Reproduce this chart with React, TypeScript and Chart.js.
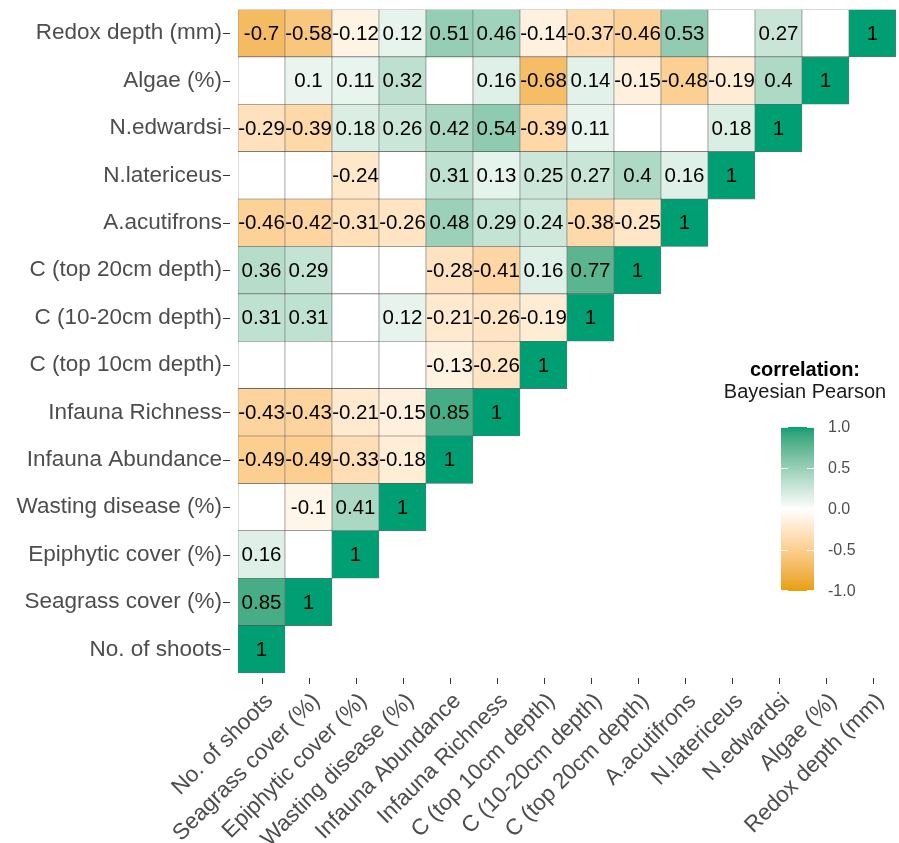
import React, { useEffect, useRef } from "react";
import { Chart, registerables } from "chart.js";

Chart.register(...registerables);

// Variables, in axis order (x: left to right, y: bottom to top)
const variables = [
  "No. of shoots",
  "Seagrass cover (%)",
  "Epiphytic cover (%)",
  "Wasting disease (%)",
  "Infauna Abundance",
  "Infauna Richness",
  "C (top 10cm depth)",
  "C (10-20cm depth)",
  "C (top 20cm depth)",
  "A.acutifrons",
  "N.latericeus",
  "N.edwardsi",
  "Algae (%)",
  "Redox depth (mm)",
];

// Lower-triangle correlations, one row per variable; null = not credible (blank cell)
const shoots = [1];
const seagrass = [0.85, 1];
const epiphytic = [0.16, null, 1];
const wasting = [null, -0.1, 0.41, 1];
const infaunaAbundance = [-0.49, -0.49, -0.33, -0.18, 1];
const infaunaRichness = [-0.43, -0.43, -0.21, -0.15, 0.85, 1];
const cTop10 = [null, null, null, null, -0.13, -0.26, 1];
const c10to20 = [0.31, 0.31, null, 0.12, -0.21, -0.26, -0.19, 1];
const cTop20 = [0.36, 0.29, null, null, -0.28, -0.41, 0.16, 0.77, 1];
const acutifrons = [-0.46, -0.42, -0.31, -0.26, 0.48, 0.29, 0.24, -0.38, -0.25, 1];
const latericeus = [null, null, -0.24, null, 0.31, 0.13, 0.25, 0.27, 0.4, 0.16, 1];
const edwardsi = [-0.29, -0.39, 0.18, 0.26, 0.42, 0.54, -0.39, 0.11, null, null, 0.18, 1];
const algae = [null, 0.1, 0.11, 0.32, null, 0.16, -0.68, 0.14, -0.15, -0.48, -0.19, 0.4, 1];
const redox = [-0.7, -0.58, -0.12, 0.12, 0.51, 0.46, -0.14, -0.37, -0.46, 0.53, null, 0.27, null, 1];

const rows: (number | null)[][] = [
  shoots,
  seagrass,
  epiphytic,
  wasting,
  infaunaAbundance,
  infaunaRichness,
  cTop10,
  c10to20,
  cTop20,
  acutifrons,
  latericeus,
  edwardsi,
  algae,
  redox,
];

const legendTicks = [1, 0.5, 0, -0.5, -1];

const LOW = "#E69F00";
const MID = "#FFFFFF";
const HIGH = "#009E73";
const FONT = '"Liberation Sans", Arial, Helvetica, sans-serif';

// --- diverging palette interpolated in CIE Lab ---
function hexToRgb(h: string) {
  const n = parseInt(h.slice(1), 16);
  return [(n >> 16) & 255, (n >> 8) & 255, n & 255];
}
function toLin(c: number) {
  c /= 255;
  return c <= 0.04045 ? c / 12.92 : Math.pow((c + 0.055) / 1.055, 2.4);
}
function fromLin(c: number) {
  const v = c <= 0.0031308 ? 12.92 * c : 1.055 * Math.pow(c, 1 / 2.4) - 0.055;
  return Math.max(0, Math.min(255, Math.round(v * 255)));
}
const XN = 0.95047, YN = 1, ZN = 1.08883;
function f(t: number) {
  return t > 0.008856 ? Math.cbrt(t) : 7.787 * t + 16 / 116;
}
function fInv(t: number) {
  const t3 = t * t * t;
  return t3 > 0.008856 ? t3 : (t - 16 / 116) / 7.787;
}
function rgbToLab([r, g, b]: number[]) {
  const R = toLin(r), G = toLin(g), B = toLin(b);
  const X = 0.4124 * R + 0.3576 * G + 0.1805 * B;
  const Y = 0.2126 * R + 0.7152 * G + 0.0722 * B;
  const Z = 0.0193 * R + 0.1192 * G + 0.9505 * B;
  const fx = f(X / XN), fy = f(Y / YN), fz = f(Z / ZN);
  return [116 * fy - 16, 500 * (fx - fy), 200 * (fy - fz)];
}
function labToRgb([L, a, b]: number[]) {
  const fy = (L + 16) / 116;
  const fx = fy + a / 500;
  const fz = fy - b / 200;
  const X = XN * fInv(fx), Y = YN * fInv(fy), Z = ZN * fInv(fz);
  const R = 3.2406 * X - 1.5372 * Y - 0.4986 * Z;
  const G = -0.9689 * X + 1.8758 * Y + 0.0415 * Z;
  const B = 0.0557 * X - 0.204 * Y + 1.057 * Z;
  return [fromLin(R), fromLin(G), fromLin(B)];
}
const labLow = rgbToLab(hexToRgb(LOW));
const labMid = rgbToLab(hexToRgb(MID));
const labHigh = rgbToLab(hexToRgb(HIGH));

function fillFor(v: number) {
  const t = Math.min(1, Math.abs(v));
  const end = v >= 0 ? labHigh : labLow;
  const lab = labMid.map((m, k) => m + (end[k] - m) * t);
  const [r, g, b] = labToRgb(lab);
  return `rgb(${r},${g},${b})`;
}

// Cell value labels and custom axis tick marks
const cellLabels = {
  id: "cellLabels",
  afterDatasetsDraw(chart: any) {
    const ctx = chart.ctx;
    ctx.save();
    ctx.font = `20.5px ${FONT}`;
    ctx.fillStyle = "#000000";
    ctx.textAlign = "center";
    ctx.textBaseline = "middle";
    rows.forEach((row, i) => {
      const meta = chart.getDatasetMeta(i);
      row.forEach((v, j) => {
        if (v == null) return;
        const el = meta.data[j];
        if (!el) return;
        ctx.fillText(String(v), el.x, (el.y + el.base) / 2 + 1);
      });
    });
    ctx.restore();
  },
};

const axisTicks = {
  id: "axisTicks",
  afterDraw(chart: any) {
    const ctx = chart.ctx;
    const { left, bottom } = chart.chartArea;
    const xs = chart.scales.x;
    const ys = chart.scales.y;
    ctx.save();
    ctx.strokeStyle = "#333333";
    ctx.lineWidth = 1;
    variables.forEach((_, i) => {
      const y = Math.round(ys.getPixelForValue(i)) + 0.5;
      ctx.beginPath();
      ctx.moveTo(left - 15, y);
      ctx.lineTo(left - 8, y);
      ctx.stroke();
      const x = Math.round(xs.getPixelForValue(i)) + 0.5;
      ctx.beginPath();
      ctx.moveTo(x, bottom + 5);
      ctx.lineTo(x, bottom + 11);
      ctx.stroke();
    });
    ctx.restore();
  },
};

// Colour-bar legend
const colorLegend = {
  id: "colorLegend",
  afterDraw(chart: any) {
    const ctx = chart.ctx;
    const cx = 805;
    const barX = 781, barW = 33, barTop = 427, barBot = 591;
    ctx.save();
    ctx.textAlign = "center";
    ctx.textBaseline = "middle";
    ctx.fillStyle = "#000000";
    ctx.font = `bold 20px ${FONT}`;
    ctx.fillText("correlation:", cx, 370);
    ctx.font = `20px ${FONT}`;
    ctx.fillStyle = "#1A1A1A";
    ctx.fillText("Bayesian Pearson", cx, 392);

    const span = barBot - barTop;
    for (let p = 0; p < span; p++) {
      const v = 1 - (2 * (p + 0.5)) / span;
      ctx.fillStyle = fillFor(v);
      ctx.fillRect(barX, barTop + p, barW, 1);
    }
    ctx.strokeStyle = "rgba(255,255,255,0.9)";
    ctx.lineWidth = 1;
    ctx.font = `16px ${FONT}`;
    ctx.fillStyle = "#4D4D4D";
    ctx.textAlign = "left";
    legendTicks.forEach((t) => {
      const y = barTop + ((1 - t) / 2) * span;
      const yy = Math.min(barBot - 0.5, Math.max(barTop + 0.5, Math.round(y) + 0.5));
      ctx.beginPath();
      ctx.moveTo(barX, yy);
      ctx.lineTo(barX + 7, yy);
      ctx.moveTo(barX + barW - 7, yy);
      ctx.lineTo(barX + barW, yy);
      ctx.stroke();
      ctx.fillText(t.toFixed(1), 828, y + 1);
    });
    ctx.restore();
  },
};

export default function App() {
  const canvasRef = useRef<HTMLCanvasElement | null>(null);

  useEffect(() => {
    if (!canvasRef.current) return;
    const datasets = rows.map((row, i) => ({
      label: variables[i],
      data: variables.map((_, j) => (j < row.length ? [i - 0.5, i + 0.5] : null)),
      backgroundColor: variables.map((_, j) => {
        const v = row[j];
        return v == null ? "#FFFFFF" : fillFor(v);
      }),
      borderColor: "rgba(60,60,60,0.75)",
      borderWidth: 0.6,
      borderSkipped: false,
      grouped: false,
      barPercentage: 1,
      categoryPercentage: 1,
    }));

    const chart = new Chart(canvasRef.current, {
      type: "bar",
      data: { labels: variables, datasets: datasets as any },
      options: {
        responsive: false,
        animation: false,
        maintainAspectRatio: false,
        layout: { padding: { top: 9.5, right: 3, left: 0, bottom: 0 } },
        plugins: {
          legend: { display: false },
          tooltip: { enabled: false },
        },
        scales: {
          x: {
            type: "category",
            offset: true,
            grid: { display: true, drawOnChartArea: false, drawTicks: false, offset: false, color: "rgba(0,0,0,0)" },
            border: { display: false },
            ticks: {
              autoSkip: false,
              maxRotation: 45,
              minRotation: 45,
              color: "#4D4D4D",
              font: { family: FONT, size: 22.5 },
              padding: 15,
              labelOffset: 8,
            },
            afterFit: (s: any) => {
              s.height = 170;
              s.paddingLeft = 0;
              s.paddingRight = 0;
            },
          },
          y: {
            type: "linear",
            min: -0.5,
            max: 13.5,
            afterBuildTicks: (s: any) => {
              s.ticks = variables.map((_, i) => ({ value: i }));
            },
            grid: { display: true, drawOnChartArea: false, drawTicks: false, color: "rgba(0,0,0,0)" },
            border: { display: false },
            ticks: {
              autoSkip: false,
              color: "#4D4D4D",
              font: { family: FONT, size: 22.5 },
              padding: 16,
              callback: (v: any) => variables[Math.round(Number(v))] ?? "",
            },
            afterFit: (s: any) => {
              s.width = 238;
              s.paddingTop = 0;
              s.paddingBottom = 0;
            },
          },
        },
      },
      plugins: [cellLabels, axisTicks, colorLegend],
    });
    return () => chart.destroy();
  }, []);

  return (
    <div style={{ position: "absolute", left: 0, top: 0, width: 899, height: 843, background: "#FFFFFF" }}>
      <canvas ref={canvasRef} width={899} height={843} style={{ display: "block" }} />
    </div>
  );
}
